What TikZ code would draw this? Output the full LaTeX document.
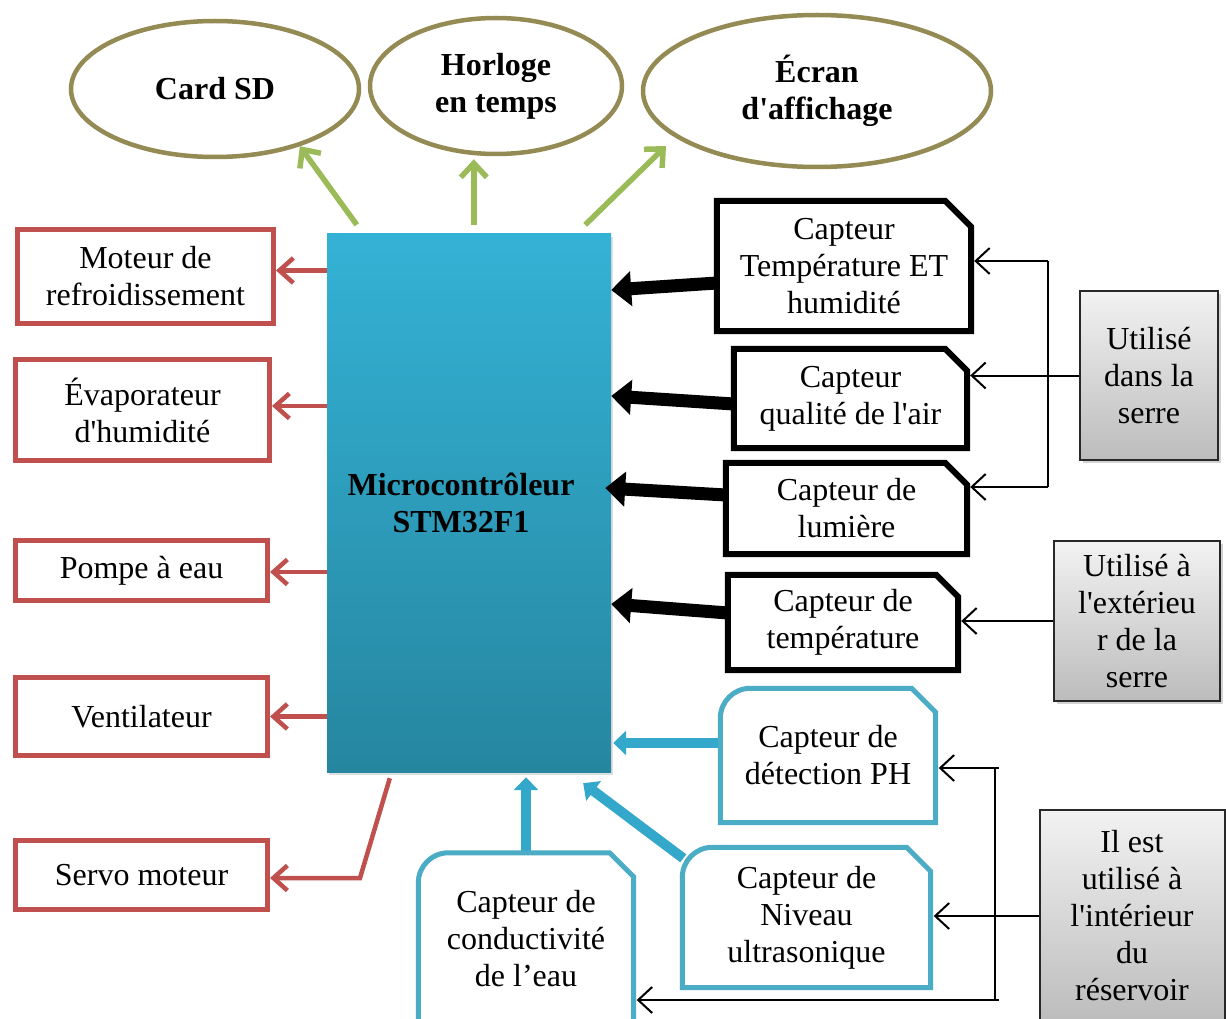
\documentclass[tikz,border=0pt]{standalone}
\usepackage{fontspec}
\setmainfont{Liberation Serif}
\usetikzlibrary{arrows.meta,shapes.geometric,shadows,calc}
\definecolor{cOlive}{RGB}{148,138,84}
\definecolor{cGreen}{RGB}{155,187,89}
\definecolor{cRed}{RGB}{192,80,77}
\definecolor{cBlue}{RGB}{75,172,198}
\definecolor{cBlueArr}{RGB}{52,168,202}
\definecolor{cTop}{RGB}{52,178,213}
\definecolor{cBot}{RGB}{38,134,160}
\newcommand\ap{\textquotesingle}
\newcommand\snipoutline[3]{\draw[#1] (#2.south west) -- (#2.north west) -- ([xshift=-#3]#2.north east) -- ([yshift=-#3]#2.north east) -- (#2.south east) -- cycle;}
\newcommand\rsnipoutline[4]{\draw[#1] (#2.south west) -- ([yshift=-#3]#2.north west) arc[start angle=180,end angle=90,radius=#3] -- ([xshift=-#4]#2.north east) -- ([yshift=-#4]#2.north east) -- (#2.south east) -- cycle;}
\tikzset{
  txt/.style={font=\fontsize{32}{37}\selectfont, align=center, inner sep=0pt, rectangle},
  ell/.style={ellipse, draw=cOlive, line width=4.5pt, fill=white, font=\fontsize{32}{37}\selectfont\bfseries, align=center, inner sep=0pt},
  redbox/.style={txt, draw=cRed, line width=5pt},
  sensor/.style={txt},
  blackline/.style={draw=black, line width=6pt},
  blueline/.style={draw=cBlue, line width=5pt},
  greybox/.style={txt, draw={rgb,255:red,40;green,40;blue,40}, line width=2pt, top color={rgb,255:red,242;green,242;blue,242}, bottom color={rgb,255:red,188;green,188;blue,188}, drop shadow={shadow xshift=3pt,shadow yshift=-3pt,opacity=0.35}},
  mcubox/.style={rectangle, top color=cTop, bottom color=cBot, font=\fontsize{32}{37}\selectfont\bfseries, align=center, inner sep=0pt, drop shadow={shadow xshift=2pt,shadow yshift=-3pt,opacity=0.25}},
  garr/.style={draw=cGreen, line width=5.5pt, -{Straight Barb[length=14pt,width=26pt]}},
  rarr/.style={draw=cRed, line width=4.5pt, -{Straight Barb[length=14pt,width=25pt]}},
  barr/.style={draw=black, line width=13pt, -{Triangle[length=20pt,width=34pt]}},
  blarr/.style={draw=cBlueArr, line width=10pt, -{Triangle[length=13pt,width=24pt]}},
  tarr/.style={draw=black, line width=2pt, -{Straight Barb[length=14pt,width=26pt]}},
  tline/.style={draw=black, line width=2pt},
}
\begin{document}
\begin{tikzpicture}[x=1pt,y=-1pt]
\useasboundingbox (0,0) rectangle (1226,1019);
\clip (0,0) rectangle (1226,1019);
\fill[white] (0,0) rectangle (1226,1019);

% ellipses
\node[ell, minimum width=288pt, minimum height=136pt] (sd) at (215,89) {Card SD};
\node[ell, minimum width=252pt, minimum height=136pt] (hr) at (496,86) {Horloge\\en temps};
\node[ell, minimum width=348pt, minimum height=152pt] (ec) at (817,91) {Écran\\d\ap affichage};

% microcontroller
\node[mcubox, minimum width=284pt, minimum height=538pt] (mcu) at (469,503) {Microcontrôleur\hspace*{16pt}\\STM32F1\hspace*{16pt}};

% actuators
\node[redbox, minimum width=256pt, minimum height=94pt] (mot) at (145.5,276.5) {Moteur de\\refroidissement};
\node[redbox, minimum width=254pt, minimum height=101pt] (eva) at (142.5,410) {Évaporateur\\d\ap humidité};
\node[redbox, minimum width=252pt, minimum height=60pt] (pom) at (141.5,570.5) {Pompe à eau};
\node[redbox, minimum width=252pt, minimum height=78pt] (ven) at (141.5,716.5) {Ventilateur};
\node[redbox, minimum width=252pt, minimum height=69pt] (ser) at (141.5,875) {Servo moteur};

% black sensors
\node[sensor, minimum width=254pt, minimum height=130pt] (t1) at (844,266) {Capteur\\Température ET\\humidité};
\node[sensor, minimum width=233pt, minimum height=99pt] (q) at (850.5,398.5) {Capteur\\qualité de l\ap air};
\node[sensor, minimum width=241pt, minimum height=91pt] (lu) at (846.5,508.5) {Capteur de\\lumière};
\node[sensor, minimum width=230pt, minimum height=95pt] (te) at (843,622.5) {Capteur de\\température};

% blue sensors
\node[sensor, minimum width=215pt, minimum height=134pt] (ph) at (828,755.5) {Capteur de\\détection PH};
\node[sensor, minimum width=248pt, minimum height=140pt] (nv) at (806.5,917.5) {Capteur de\\Niveau\\ultrasonique};
\node[sensor, minimum width=215pt, minimum height=172pt] (cd) at (526,939) {Capteur de\\conductivité\\de l’eau};

% grey notes
\node[greybox, minimum width=138pt, minimum height=169pt] (g1) at (1149,375.5) {Utilisé\\dans la\\serre};
\node[greybox, minimum width=166pt, minimum height=160pt] (g2) at (1137,621) {Utilisé à\\l\ap extérieu\\r de la\\serre};
\node[greybox, minimum width=185pt, minimum height=212pt] (g3) at (1132,916) {Il est\\utilisé à\\l\ap intérieur\\du\\réservoir};

% green arrows
\draw[garr] ($(mcu.north west)+(30,-9)$) -- (sd.-34);
\draw[garr] ($(mcu.north west)+(147,-9)$) coordinate (gs) -- ([yshift=-3pt]gs |- hr.south);
\draw[garr] ($(mcu.north east)+(-26,-9)$) -- ($(ec.center)+(-151,55)$);

% red arrows
\draw[rarr] ($(mot.east -| mcu.west)+(0,-6)$) -- ($(mot.east)+(0,-6)$);
\draw[rarr] ($(eva.east -| mcu.west)+(0,-4)$) -- ($(eva.east)+(0,-4)$);
\draw[rarr] ($(pom.east -| mcu.west)+(0,1.5)$) -- ($(pom.east)+(0,1.5)$);
\draw[rarr] (ven.east -| mcu.west) -- (ven.east);
\draw[rarr, line join=miter] ($(mcu.south west)+(63,6)$) -- ($(ser.east)+(90,3)$) -- ($(ser.east)+(0,3)$);

% black thick arrows
\draw[barr] ($(t1.west)+(0,17)$) -- ($(mcu.east)+(0,-213)$);
\draw[barr] ($(q.west)+(0,5.5)$) -- ($(mcu.east)+(0,-107)$);
\draw[barr] ($(lu.west)+(0,-13.5)$) -- ($(mcu.east)+(-6,-15)$);
\draw[barr] ($(te.west)+(0,-9.5)$) -- ($(mcu.east)+(0,101)$);

% blue arrows
\draw[blarr] ($(ph.west)+(0,-12.5)$) -- ($(mcu.east)+(2,240)$);
\draw[blarr] (cd.north) -- ($(cd.north |- mcu.south)+(0,5)$);
\draw[blarr] ($(nv.north west)+(1,11)$) -- ($(mcu.south east)+(-28,11)$);

% outlines
\snipoutline{blackline}{t1}{26pt}
\snipoutline{blackline}{q}{22pt}
\snipoutline{blackline}{lu}{22pt}
\snipoutline{blackline}{te}{22pt}
\rsnipoutline{blueline}{ph}{30pt}{24pt}
\rsnipoutline{blueline}{nv}{30pt}{24pt}
\rsnipoutline{blueline}{cd}{30pt}{24pt}

% thin connectors (right)
\coordinate (ja) at (1048,261);
\coordinate (jb) at (1048,487);
\draw[tline] (ja) -- (jb);
\draw[tarr] (ja) -- ([xshift=3pt]t1.east |- ja);
\draw[tarr] (jb) -- ([xshift=3pt]lu.east |- jb);
\draw[tarr] (g1.west) -- ([xshift=3pt]q.east |- g1.west);
\draw[tarr] (g2.west) -- ([xshift=3pt]te.east |- g2.west);

\coordinate (ka) at (995,768);
\coordinate (kb) at (995,1000);
\draw[tline] (ka) -- (kb);
\draw[tarr] ([xshift=4pt]ka) -- ([xshift=3pt]ph.east |- ka);
\draw[tarr] ([xshift=4pt]kb) -- ([xshift=3pt]cd.east |- kb);
\draw[tarr] (g3.west) -- ([xshift=3pt]nv.east |- g3.west);
\end{tikzpicture}
\end{document}
